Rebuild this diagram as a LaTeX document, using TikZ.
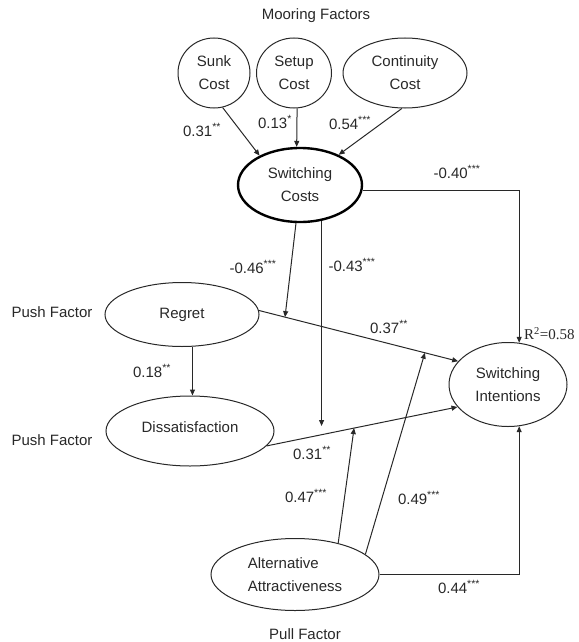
\documentclass[tikz,border=0pt]{standalone}
\usepackage{fontspec}
\setmainfont{Liberation Sans}
\newfontfamily\timesfont{Liberation Serif}
\usetikzlibrary{shapes.geometric,arrows.meta,calc}
\definecolor{ink}{RGB}{40,40,40}
\newcommand{\sg}[1]{\textsuperscript{#1}}
\begin{document}
\begin{tikzpicture}[x=1pt,y=-1pt,
  every node/.style={font=\fontsize{15}{23}\selectfont, text=ink},
  ell/.style={draw=ink, line width=1pt, ellipse, inner sep=0pt, align=center},
  arr/.style={draw=ink, line width=1pt, -{Triangle[length=6pt,width=5pt]}},
  lbl/.style={inner sep=0pt},
]
\useasboundingbox (0,0) rectangle (578,642);

% constructs
\node[ell, minimum width=72pt, minimum height=70pt] (sunk) at (214,73) {Sunk\\Cost};
\node[ell, minimum width=75pt, minimum height=70pt] (setup) at (294,73) {Setup\\Cost};
\node[ell, minimum width=124pt, minimum height=70pt] (cont) at (405,73) {Continuity\\Cost};
\node[ell, line width=2.4pt, draw=black, minimum width=124pt, minimum height=74pt] (sc) at (300,185) {Switching\\Costs};
\node[ell, minimum width=154pt, minimum height=64pt] (reg) at (182,314.5) {Regret};
\node[ell, minimum width=168pt, minimum height=70pt] (dis) at (190,431) {\raisebox{8pt}{Dissatisfaction}};
\node[ell, minimum width=118pt, minimum height=84pt] (si) at (508,384.5) {Switching\\Intentions};
\node[ell, align=left, minimum width=168pt, minimum height=72pt] (alt) at (295,574.5) {Alternative\\Attractiveness};

% group labels
\node[lbl] (moor) at (316,16) {Mooring Factors};
\node[lbl] (push1) at (52,312) {Push Factor};
\node[lbl] (push2) at (52,440) {Push Factor};
\node[lbl] (pull) at (305,634) {Pull Factor};

% helper points on paths
\coordinate (m1) at ($(reg.3)!0.131!(si.155)$);
\coordinate (m3) at ($(dis.-11)!0.458!(si.-156)$);
\coordinate (m4) at ($(reg.3)!0.833!(si.155)$);
\coordinate (m2) at (321,426);

% connectors
\draw[arr] (sunk.-76) -- (sc.144);
\draw[arr] (setup.-85) -- (sc.95);
\draw[arr] (cont.-95) -- (sc.38);
\draw[arr] (sc.-5) -| (si.75);
\draw[arr] (reg.3) -- (si.155);
\draw[arr] (sc.-96) -- (m1);
\draw[arr] (sc.-59) -- (sc.-59 |- m2);
\draw[arr] (reg.-72) -- (reg.-72 |- dis.north);
\draw[arr] (dis.-11) -- (si.-156);
\draw[arr] (alt.36) -- (m3);
\draw[arr] (alt.16) -- (m4);
\draw[arr] (alt.east) -| (si.-75);

% path coefficients
\node[lbl] (l031) at (202,130) {0.31\sg{**}};
\node[lbl] (l013) at (275,122) {0.13\sg{*}};
\node[lbl] (l054) at (350,123) {0.54\sg{***}};
\node[lbl] (l040) at (457,172) {-0.40\sg{***}};
\node[lbl] (l046) at (253,267) {-0.46\sg{***}};
\node[lbl] (l043) at (352,265) {-0.43\sg{***}};
\node[lbl] (l037) at (389,327) {0.37\sg{**}};
\node[lbl, anchor=west, font=\timesfont\fontsize{15}{18}\selectfont] (r2) at (524,334) {R\textsuperscript{2}=0.58};
\node[lbl] (l018) at (152,371) {0.18\sg{**}};
\node[lbl] (l031b) at (312,453) {0.31\sg{**}};
\node[lbl] (l047) at (306,496) {0.47\sg{***}};
\node[lbl] (l049) at (419,498) {0.49\sg{***}};
\node[lbl] (l044) at (459,587) {0.44\sg{***}};
\end{tikzpicture}
\end{document}
